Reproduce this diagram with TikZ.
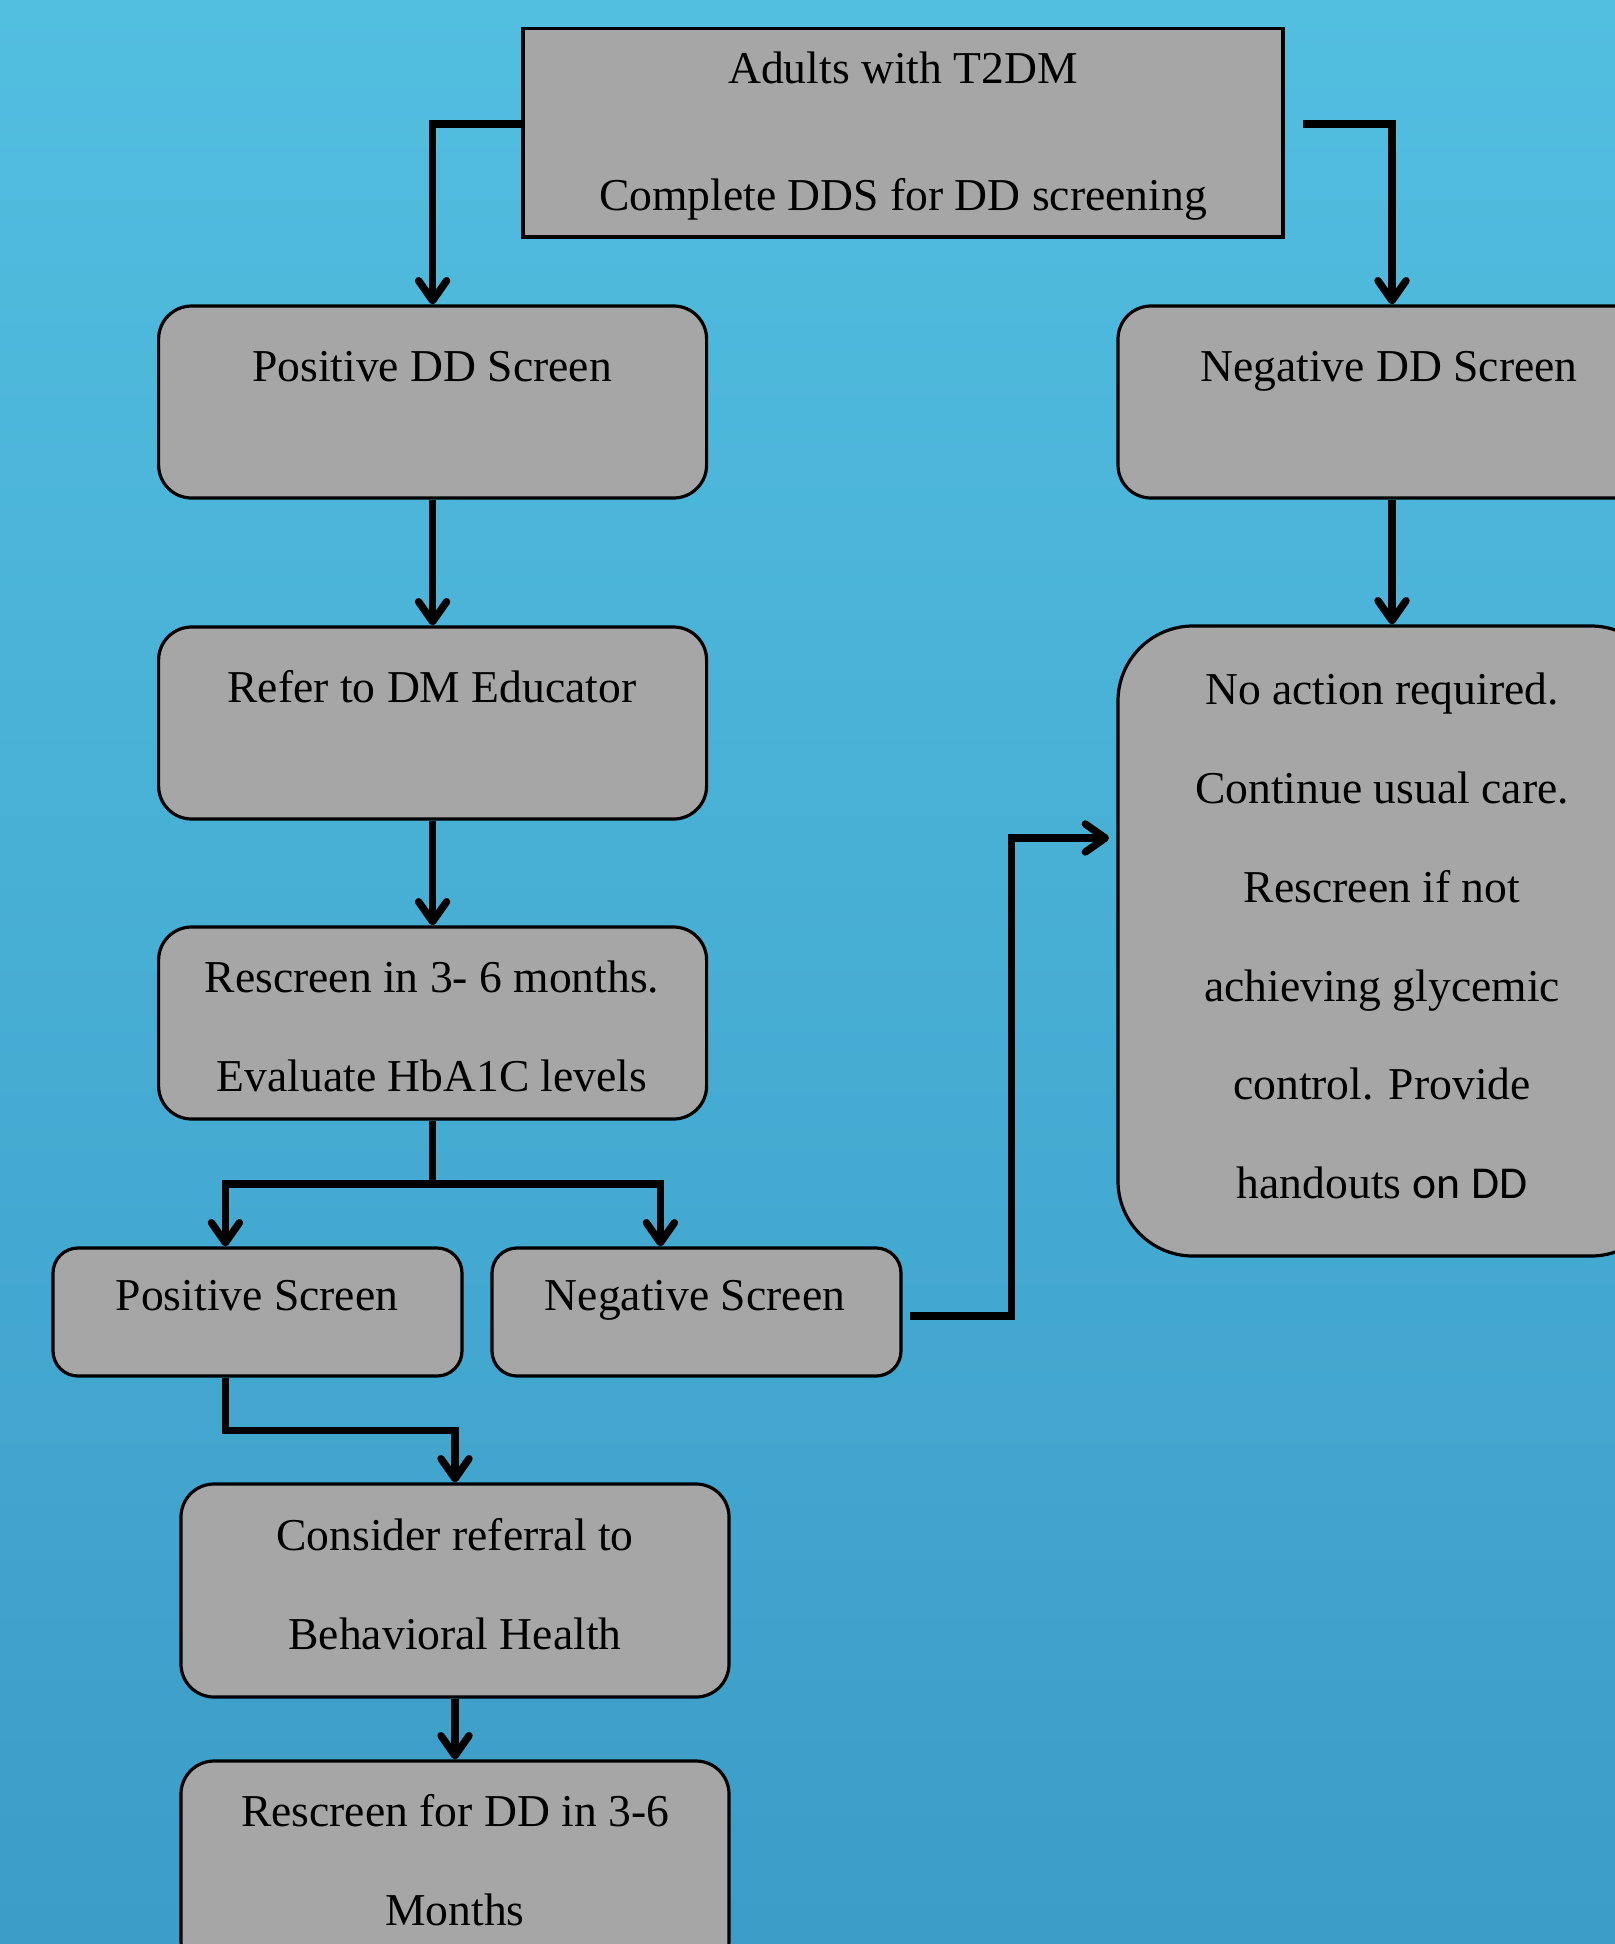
\documentclass[tikz,border=0pt]{standalone}
\usepackage{fontspec}
\setmainfont{Liberation Serif}
\newfontfamily\calfont{Carlito}
\usetikzlibrary{arrows.meta}
\definecolor{bgtop}{RGB}{82,190,224}
\definecolor{bgbot}{RGB}{60,157,199}
\definecolor{boxgray}{RGB}{166,166,166}
\tikzset{
  boxbase/.style={draw=black, line width=1.6pt, fill=boxgray, inner sep=0pt},
  sharpbox/.style={boxbase, minimum width=380pt, minimum height=104.25pt},
  bigbox/.style={boxbase, rounded corners=16.5pt, minimum width=274pt, minimum height=96pt},
  smallbox/.style={boxbase, rounded corners=12.5pt, minimum width=204.5pt, minimum height=64pt},
  tallbox/.style={boxbase, rounded corners=37.5pt, minimum width=274pt, minimum height=315pt},
  midbox/.style={boxbase, rounded corners=16.5pt, minimum width=274pt, minimum height=106.5pt},
  conn/.style={line width=3.7pt, -{Straight Barb[length=10pt,width=14pt,round]}},
  plainline/.style={line width=3.7pt},
  txt/.style={anchor=base, inner sep=0pt, font=\fontsize{22.8}{27}\selectfont},
}
\begin{document}
\begin{tikzpicture}[x=0.5pt,y=-0.5pt]
\useasboundingbox (0,0) rectangle (1615,1944);
\clip (0,0) rectangle (1615,1944);
\shade[top color=bgtop, bottom color=bgbot] (0,0) rectangle (1615,1944);

% boxes
\node[sharpbox] (top) at (903,132.75) {};
\node[bigbox] (pdd) at (432.6,402) {};
\node[bigbox] (ndd) at (1392,402) {};
\node[bigbox] (refer) at (432.6,723) {};
\node[bigbox] (resc) at (432.6,1023) {};
\node[smallbox] (pscr) at (257.5,1312) {};
\node[smallbox] (nscr) at (696.5,1312) {};
\node[tallbox] (noact) at (1392,941) {};
\node[midbox] (cons) at (455,1590.5) {};
\node[midbox] (rdd) at (455,1867.5) {};

% texts
\node[txt] (t1) at (903,83.5) {Adults with T2DM};
\node[txt] (t2) at (903,210.5) {Complete DDS for DD screening};
\node[txt] (tpdd) at (432,381.5) {Positive DD Screen};
\node[txt] (tndd) at (1389,381.5) {Negative DD Screen};
\node[txt] (tref) at (432,702.5) {Refer to DM Educator};
\node[txt] (tres1) at (432,992.5) {Rescreen in 3- 6 months.};
\node[txt] (tres2) at (432,1091.5) {Evaluate HbA1C levels};
\node[txt] (tpscr) at (257,1310.5) {Positive Screen};
\node[txt] (tnscr) at (695,1310.5) {Negative Screen};
\node[txt] (tna1) at (1382,704.5) {No action required.};
\node[txt] (tna2) at (1382,803.5) {Continue usual care.};
\node[txt] (tna3) at (1382,902) {Rescreen if not};
\node[txt] (tna4) at (1382,1001) {achieving glycemic};
\node[txt] (tna5) at (1382,1099) {control. Provide};
\node[txt] (tna6) at (1382,1198) {handouts {\calfont on DD}};
\node[txt] (tcon1) at (455,1550.5) {Consider referral to};
\node[txt] (tcon2) at (455,1649.5) {Behavioral Health};
\node[txt] (trdd1) at (455,1826.5) {Rescreen for DD in 3-6};
\node[txt] (trdd2) at (455,1925.5) {Months};

% connectors
\coordinate (br) at (432.6,1184);
\draw[conn] ([yshift=4.4pt]top.west) -| (pdd.north);
\draw[conn] ([xshift=9pt,yshift=4.4pt]top.east) -| (ndd.north);
\draw[conn] (pdd.south) -- (refer.north);
\draw[conn] (refer.south) -- (resc.north);
\draw[plainline] (resc.south) -- (br);
\draw[conn] (br) -| ([xshift=87pt]pscr.north west);
\draw[conn] (br) -| ([xshift=85pt]nscr.north west);
\draw[conn] ([xshift=3.75pt,yshift=-2pt]nscr.east) -- ++(50.75pt,0pt) |- ([xshift=-3.7pt,yshift=51.5pt]noact.west);
\draw[conn] (ndd.south) -- (noact.north);
\draw[conn] ([xshift=87pt]pscr.south west) -- ++(0pt,-26.5pt) -| (cons.north);
\draw[conn] (cons.south) -- (rdd.north);
\end{tikzpicture}
\end{document}
